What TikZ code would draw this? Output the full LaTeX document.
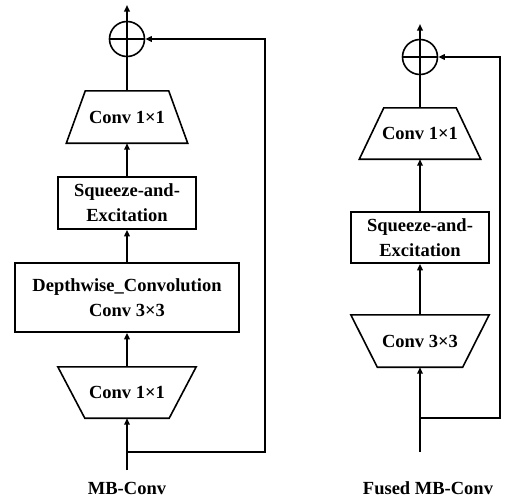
\documentclass[tikz,border=0pt]{standalone}
\usepackage{fontspec}
\setmainfont{Liberation Serif}
\usetikzlibrary{arrows.meta,calc}
\tikzset{
	ln/.style={line width=1.6pt},
	blk/.style={inner sep=0pt, align=center,
		font=\bfseries\fontsize{18.5}{25}\selectfont},
	box/.style={blk, draw, ln},
	addop/.style={draw, circle, ln, minimum size=35pt, inner sep=0pt,
		path picture={\draw[ln]
			(path picture bounding box.north) -- (path picture bounding box.south)
			(path picture bounding box.west) -- (path picture bounding box.east);}},
	arr/.style={ln, -{Triangle[length=6.5pt,width=5.5pt]}},
	lbl/.style={anchor=base, font=\bfseries\fontsize{18.5}{25}\selectfont},
}
% outline of a trapezoid round a node: inset of the top edge, inset of the bottom edge
\def\trapbox(#1)(#2:#3){\draw[ln] ($(#1.north west)+(#2,0)$) -- ($(#1.north east)+(-#2,0)$)
	-- ($(#1.south east)+(-#3,0)$) -- ($(#1.south west)+(#3,0)$) -- cycle;}

\begin{document}
\begin{tikzpicture}[x=1pt,y=-1pt]
			%%%%% START %%%%%
			\useasboundingbox (0,0) rectangle (506,498);
			
			%% MB-Conv
			\node[addop] (s1) at (127, 39) {};
			\node[blk, minimum width=121pt, minimum height=52pt] (t1) at (127, 117) {Conv 1×1};
			\trapbox(t1)(19:0)
			\node[box, minimum width=138pt, minimum height=52pt] (se1) at (127, 203) {Squeeze-and-\\Excitation};
			\node[box, minimum width=224pt, minimum height=69pt] (dw1) at (127, 297.5) {Depthwise\_Convolution\\Conv 3×3};
			\node[blk, minimum width=138pt, minimum height=51pt] (b1) at (127, 392.5) {Conv 1×1};
			\trapbox(b1)(0:27)
			\coordinate (in1) at (127, 470);
			\coordinate (j1) at (127, 452);
			\coordinate (out1) at (127, 5);
			
			\draw[arr] (in1) -- (b1);
			\draw[arr] (b1) -- (dw1);
			\draw[arr] (dw1) -- (se1);
			\draw[arr] (se1) -- (t1);
			\draw[ln] (t1) -- (s1);
			\draw[arr] (s1) -- (out1);
			\draw[arr] (j1) -- ++(138,0) |- (s1);
			\node[lbl] (n1) at (127, 494) {MB-Conv};
			
			%% Fused MB-Conv
			\node[addop] (s2) at (420, 57) {};
			\node[blk, minimum width=121pt, minimum height=51pt] (t2) at (420, 133.5) {Conv 1×1};
			\trapbox(t2)(24.5:0)
			\node[box, minimum width=138pt, minimum height=51pt] (se2) at (420, 237.5) {Squeeze-and-\\Excitation};
			\node[blk, minimum width=138pt, minimum height=52pt] (b2) at (420, 341) {Conv 3×3};
			\trapbox(b2)(0:26.5)
			\coordinate (in2) at (420, 452);
			\coordinate (j2) at (420, 418);
			\coordinate (out2) at (420, 24);
			
			\draw[arr] (in2) -- (b2);
			\draw[arr] (b2) -- (se2);
			\draw[arr] (se2) -- (t2);
			\draw[ln] (t2) -- (s2);
			\draw[arr] (s2) -- (out2);
			\draw[arr] (j2) -- ++(80,0) |- (s2);
			\node[lbl] (n2) at (428, 494) {Fused MB-Conv};
			
			%%%%% END %%%%%
\end{tikzpicture}
\end{document}
